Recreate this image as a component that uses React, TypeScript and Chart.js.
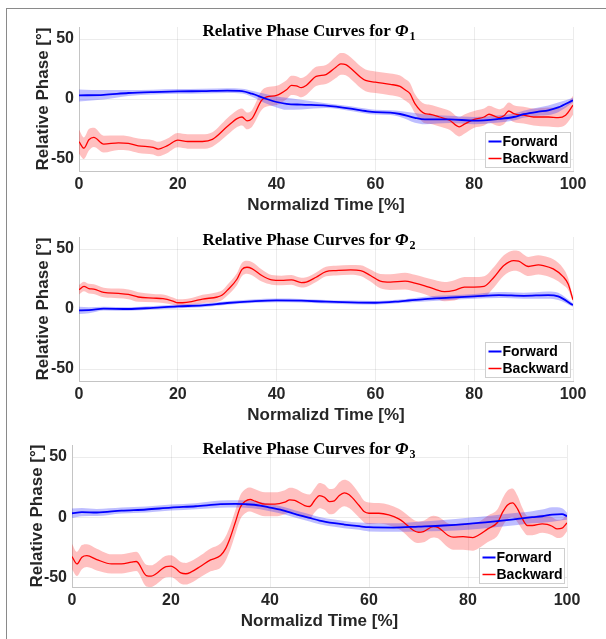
import React, { useEffect, useRef } from 'react';
import { Chart, registerables } from 'chart.js';

Chart.register(...registerables);

// ---------- labels & ticks ----------
const xTicks = [0, 20, 40, 60, 80, 100];
const yTicks = [-50, 0, 50];
const seriesLabels = ['Forward', 'Backward'];
const titleText = 'Relative Phase Curves for ';
const titleSymbol = 'Φ';
const titleSubscripts = ['1', '2', '3'];
const xAxisTitle = 'Normalizd Time [%]';
const yAxisTitle = 'Relative Phase [°]';
const yMins = [-60, -60, -58];
const yMaxs = [60, 60, 60];

// ---------- Phi 1 ----------
const phi1ForwardT = [0, 5, 10, 15, 20, 25, 30, 33, 35, 38, 40, 42, 45, 50, 55, 58, 60, 63, 65, 68, 70, 75, 80, 85, 88, 90, 93, 95, 97, 100];
const phi1ForwardMean = [3, 3.5, 5, 5.8, 6.3, 6.6, 7, 6.6, 4.4, 0, -2.5, -4, -4.7, -5.5, -8, -10, -11, -11.3, -12.5, -15.7, -17, -17, -18, -16.6, -15, -12.7, -10.5, -9.4, -7, -1];
const phi1ForwardSd = [5, 4, 2.5, 2, 2, 2, 2, 2, 2.5, 4, 4.5, 5, 4, 2, 2, 2, 2, 2, 2.5, 4, 4, 3, 3, 3, 3, 3, 3.5, 4, 4, 2];

const phi1BackwardT = [0, 1, 2, 3, 5, 8, 10, 12, 15, 16, 18, 20, 22, 25, 27, 30, 32, 33, 34, 35, 37, 38, 40, 42, 43, 44, 45, 46, 48, 50, 52, 53, 54, 55, 57, 58, 60, 63, 65, 66, 67, 68, 70, 71, 73, 75, 77, 78, 80, 82, 83, 85, 86, 87, 88, 90, 92, 95, 97, 98.5, 100];
const phi1BackwardMean = [-35.6, -41, -34, -32, -37.6, -36.5, -37, -39, -40.3, -41.7, -38.7, -34.3, -35.4, -35.4, -33.7, -23, -16.3, -15, -18.2, -16.3, -1, 1.7, 3, 7.7, 11.3, 11, 9.4, 11.3, 18.8, 20.4, 26.5, 29.3, 28.7, 25.7, 18.2, 15.5, 14, 12.2, 10.5, 7.7, 4.4, -3.9, -12.2, -12.7, -15, -17.7, -23.2, -21, -17, -15, -12.7, -15.5, -14, -10, -12.2, -13.5, -15, -15, -15.5, -13.5, -5.2];
const phi1BackwardSd = [10, 9, 9, 8, 7, 6, 6, 6, 6, 6, 6, 6, 6, 6, 6, 7, 7, 7, 7, 7, 8, 8, 8, 8, 8, 8, 8, 8, 8, 8, 9, 9, 9, 9, 9, 9, 9, 9, 9, 9, 9, 8, 8, 8, 8, 8, 8, 8, 7, 7, 7, 7, 7, 7, 7, 7, 7, 8, 8, 8, 8];

// ---------- Phi 2 ----------
const phi2ForwardT = [0, 2, 5, 10, 15, 20, 25, 30, 35, 40, 45, 50, 55, 60, 65, 70, 75, 80, 85, 90, 95, 97, 100];
const phi2ForwardMean = [-1.1, -1, 0.3, 0, 1, 2.2, 3, 5, 6.4, 7.2, 6.9, 6.1, 5.5, 5.2, 6.4, 8.3, 9.4, 10.5, 11.6, 11, 11.6, 10.5, 3.3];
const phi2ForwardSd = [3, 2.5, 1.5, 1.5, 1.5, 1.5, 1.5, 1.5, 1.5, 1.5, 1.5, 1.5, 1.5, 1.5, 1.5, 2, 2, 2, 2.5, 2.5, 3, 3, 1.5];

const phi2BackwardT = [0, 1, 2, 3, 5, 8, 10, 12, 15, 17, 19, 20, 21, 23, 25, 28, 29, 30, 32, 33, 34, 35, 37, 39, 41, 43, 45, 46, 48, 50, 52, 55, 57, 59, 61, 63, 66, 68, 70, 72, 74, 76, 78, 80, 82, 84, 86, 88, 89, 91, 93, 94, 96, 98, 99, 100];
const phi2BackwardMean = [16, 18.8, 17, 16.6, 13.8, 13, 12.2, 10, 9.1, 8.6, 6.6, 5.2, 5.2, 6.3, 8.3, 10, 11.6, 15.5, 25, 33, 34.8, 33.7, 27.9, 24.3, 23.8, 24.3, 22, 22.4, 26.5, 31.2, 32, 32.6, 32, 27.9, 23.2, 22.4, 23.2, 21.5, 19.3, 16.6, 14.4, 15.5, 18.2, 18.2, 18.8, 26.5, 36.2, 40.3, 39.8, 35.4, 36.7, 36.2, 33.4, 27, 21, 7.7];
const phi2BackwardSd = [4, 4, 4, 4, 4, 4, 4, 4, 3.5, 3.5, 3, 3, 3, 3, 3.5, 4, 4, 4.5, 5, 5.5, 5.5, 5.5, 5, 4, 4, 4, 4, 4, 4, 4, 4, 4, 4.5, 5, 6, 6.5, 7, 7, 7, 7.5, 8, 8.5, 8.5, 8.5, 8.5, 8.5, 8.5, 8.5, 8.5, 8, 8, 8, 8, 7, 5, 2];

// ---------- Phi 3 ----------
const phi3ForwardT = [0, 2, 5, 10, 15, 20, 25, 30, 33, 35, 38, 40, 43, 45, 48, 50, 53, 55, 58, 60, 65, 70, 75, 80, 85, 90, 93, 95, 97, 99, 100];
const phi3ForwardMean = [3.3, 4.2, 3.9, 5.5, 6.4, 8, 9.1, 10.8, 11.1, 10.8, 9.7, 8, 5.3, 2.8, -0.6, -2.8, -5, -6.1, -7.5, -8.3, -8.6, -7.8, -6.9, -5.5, -3.6, -1.4, 0, 0.8, 2.2, 2.5, 0.8];
const phi3ForwardSd = [4, 3.5, 3, 2.5, 2.5, 2.5, 2.5, 3, 3, 3, 3, 3, 3, 3, 3, 3, 3, 3, 3, 3.5, 3.5, 4, 4.5, 5, 5, 5, 5, 5.5, 6, 5, 3];

const phi3BackwardT = [0, 1, 2, 3, 5, 8, 10, 12, 13, 15, 16, 17, 19, 20, 21, 22, 23, 24, 26, 28, 30, 31, 32, 33, 34, 35, 36, 37, 39, 41, 43, 44, 45, 47, 48, 49, 50, 51, 52, 53, 54, 55, 56, 58, 59, 60, 62, 64, 66, 67, 69, 70, 71, 73, 74, 76, 77, 79, 81, 82, 84, 86, 87, 88, 89, 90, 91, 92, 93, 95, 96, 97, 98, 99, 100];
const phi3BackwardMean = [-32.7, -38.8, -33.2, -31.9, -35.2, -38.8, -38.8, -37.4, -36.8, -48.5, -49, -47, -41, -40.7, -42.9, -46.3, -47, -45.7, -40.7, -35.5, -31.9, -26.3, -16.6, -4.2, 8.3, 13.3, 14.7, 13.3, 10.8, 10.8, 12.5, 14.4, 13.9, 9.7, 8.9, 13.9, 18, 16.6, 13, 13.6, 18, 20.2, 18.6, 9.7, 4.7, 3.3, 3.3, 1.9, -1.4, -4.2, -11.1, -12.5, -11.9, -7.8, -8.6, -15.2, -16.6, -16.1, -16.9, -15.2, -9.7, -4.2, 4.2, 10.2, 11.9, 6.9, -1.4, -6.9, -6.9, -5.5, -6, -7.5, -9.7, -9.1, -4.7];
const phi3BackwardSd = [10.5, 10, 10, 9.5, 9, 8, 8, 8, 8, 9, 9, 9, 9, 9, 9, 9, 9, 9, 9, 9.5, 10, 10, 10, 10, 10, 10, 10, 10, 10, 10, 10, 10, 10, 10, 10, 10, 10.5, 10.5, 10.5, 10.5, 11, 11, 11, 10, 9, 9, 8.5, 8.5, 8.5, 8.5, 9, 9, 9, 9, 9, 10, 10.5, 11, 11, 11, 11, 11, 11.5, 12, 12, 11, 9, 8, 8, 7.5, 7.5, 7.5, 7.5, 7.5, 7];

// ---------- styling / layout (not data) ----------
const FORWARD_LINE = '#0000ff';
const FORWARD_BAND = 'rgba(40,40,255,0.30)';
const BACKWARD_LINE = '#ff0000';
const BACKWARD_BAND = 'rgba(255,30,30,0.28)';
const TEXT = '#262626';
const SANS = '"Liberation Sans", Arial, sans-serif';
const SERIF = '"Liberation Serif", "Times New Roman", serif';

type Series = { t: number[]; mean: number[]; sd: number[] };
type PanelCfg = {
  top: number; height: number; left: number; right: number; padTop: number;
  yTitlePad: number; titleDy: number; forward: Series; backward: Series; idx: number;
};

const panels: PanelCfg[] = [
  { idx: 0, top: 0, height: 216, left: 79, right: 573, padTop: 27, yTitlePad: 33.5, titleDy: 9,
    forward: { t: phi1ForwardT, mean: phi1ForwardMean, sd: phi1ForwardSd },
    backward: { t: phi1BackwardT, mean: phi1BackwardMean, sd: phi1BackwardSd } },
  { idx: 1, top: 210, height: 216, left: 79, right: 573, padTop: 27, yTitlePad: 33.5, titleDy: 7.5,
    forward: { t: phi2ForwardT, mean: phi2ForwardMean, sd: phi2ForwardSd },
    backward: { t: phi2BackwardT, mean: phi2BackwardMean, sd: phi2BackwardSd } },
  { idx: 2, top: 418, height: 214, left: 72, right: 567, padTop: 27, yTitlePad: 27.5, titleDy: 9,
    forward: { t: phi3ForwardT, mean: phi3ForwardMean, sd: phi3ForwardSd },
    backward: { t: phi3BackwardT, mean: phi3BackwardMean, sd: phi3BackwardSd } },
];

const pts = (t: number[], v: number[]) => t.map((x, i) => ({ x, y: v[i] }));
const hi = (s: Series) => s.t.map((x, i) => ({ x, y: s.mean[i] + s.sd[i] }));
const lo = (s: Series) => s.t.map((x, i) => ({ x, y: s.mean[i] - s.sd[i] }));

function overlayPlugin(p: PanelCfg) {
  return {
    id: 'overlay' + p.idx,
    afterDraw(chart: any) {
      const { ctx, chartArea } = chart;
      ctx.save();
      // title
      const fMain = `bold 17px ${SERIF}`;
      const fSym = `italic bold 17px ${SERIF}`;
      const fSub = `bold 12px ${SERIF}`;
      ctx.font = fMain;
      const w1 = ctx.measureText(titleText).width;
      ctx.font = fSym;
      const w2 = ctx.measureText(titleSymbol).width;
      ctx.font = fSub;
      const w3 = ctx.measureText(titleSubscripts[p.idx]).width;
      const total = w1 + w2 + 1 + w3;
      let x = 309 - total / 2;
      const yb = chartArea.top + p.titleDy;
      ctx.fillStyle = '#000';
      ctx.textBaseline = 'alphabetic';
      ctx.textAlign = 'left';
      ctx.font = fMain;
      ctx.fillText(titleText, x, yb);
      x += w1;
      ctx.font = fSym;
      ctx.fillText(titleSymbol, x, yb);
      x += w2 + 1;
      ctx.font = fSub;
      ctx.fillText(titleSubscripts[p.idx], x, yb + 4);

      // legend
      const bw = 85, bh = 35;
      const bx = Math.round(chartArea.right - 3 - bw) + 0.5;
      const by = Math.round(chartArea.bottom - 4 - bh) + 0.5;
      ctx.fillStyle = '#ffffff';
      ctx.fillRect(bx, by, bw, bh);
      ctx.strokeStyle = '#cfcfcf';
      ctx.lineWidth = 1;
      ctx.strokeRect(bx, by, bw, bh);
      const colors = [FORWARD_LINE, BACKWARD_LINE];
      const rows = [by + 9, by + 26];
      ctx.font = `bold 14px ${SANS}`;
      ctx.textBaseline = 'middle';
      for (let i = 0; i < 2; i++) {
        ctx.strokeStyle = colors[i];
        ctx.lineWidth = i === 0 ? 2 : 1.5;
        ctx.beginPath();
        ctx.moveTo(bx + 3, rows[i]);
        ctx.lineTo(bx + 16, rows[i]);
        ctx.stroke();
        ctx.fillStyle = '#000';
        ctx.fillText(seriesLabels[i], bx + 17, rows[i] + 1);
      }
      ctx.restore();
    },
  };
}

function Panel({ p }: { p: PanelCfg }) {
  const ref = useRef<HTMLCanvasElement | null>(null);
  useEffect(() => {
    if (!ref.current) return;
    const common = { pointRadius: 0, cubicInterpolationMode: 'monotone' as const };
    const chart = new Chart(ref.current, {
      type: 'line',
      data: {
        datasets: [
          { label: seriesLabels[0], data: pts(p.forward.t, p.forward.mean), borderColor: FORWARD_LINE, borderWidth: 1.8, fill: false, ...common },
          { label: seriesLabels[1], data: pts(p.backward.t, p.backward.mean), borderColor: BACKWARD_LINE, borderWidth: 1.3, fill: false, ...common },
          { label: 'f-lo', data: lo(p.forward), borderWidth: 0, borderColor: 'transparent', fill: false, ...common },
          { label: 'f-hi', data: hi(p.forward), borderWidth: 0, borderColor: 'transparent', backgroundColor: FORWARD_BAND, fill: 2, ...common },
          { label: 'b-lo', data: lo(p.backward), borderWidth: 0, borderColor: 'transparent', fill: false, ...common },
          { label: 'b-hi', data: hi(p.backward), borderWidth: 0, borderColor: 'transparent', backgroundColor: BACKWARD_BAND, fill: 4, ...common },
        ],
      },
      options: {
        animation: false,
        responsive: false,
        events: [],
        layout: { padding: { top: p.padTop, left: 0, right: 606 - p.right, bottom: 0 } },
        plugins: { legend: { display: false }, tooltip: { enabled: false }, title: { display: false } },
        scales: {
          x: {
            type: 'linear',
            min: 0,
            max: 100,
            afterBuildTicks: (s: any) => { s.ticks = xTicks.map((value) => ({ value })); },
            afterFit: (s: any) => { s.height = 45; },
            grid: { color: 'rgba(0,0,0,0.075)', drawTicks: false },
            border: { color: '#c4c4c4' },
            ticks: { color: TEXT, font: { family: SANS, size: 16, weight: 'bold' }, padding: 4, maxRotation: 0, autoSkip: false },
            title: { display: true, text: xAxisTitle, color: TEXT, font: { family: SANS, size: 17, weight: 'bold' }, padding: { top: 0, bottom: 0 } },
          },
          y: {
            type: 'linear',
            min: yMins[p.idx],
            max: yMaxs[p.idx],
            afterBuildTicks: (s: any) => { s.ticks = yTicks.map((value) => ({ value })); },
            afterFit: (s: any) => { s.width = p.left; },
            grid: { color: 'rgba(0,0,0,0.075)', drawTicks: false },
            border: { color: '#c4c4c4' },
            ticks: { color: TEXT, font: { family: SANS, size: 16, weight: 'bold' }, padding: 5, callback: (v: any) => String(v) },
            title: { display: true, text: yAxisTitle, color: TEXT, font: { family: SANS, size: 17, weight: 'bold' }, padding: { top: p.yTitlePad, bottom: 0 } },
          },
        },
      },
      plugins: [overlayPlugin(p)],
    } as any);
    return () => chart.destroy();
  }, []);
  return (
    <canvas
      ref={ref}
      width={606}
      height={p.height}
      style={{ position: 'absolute', left: 0, top: p.top, width: 606, height: p.height, display: 'block' }}
    />
  );
}

export default function App() {
  return (
    <div style={{ position: 'absolute', left: 0, top: 0, width: 606, height: 639, background: '#fff', overflow: 'hidden' }}>
      <div style={{ position: 'absolute', left: 6, top: 8, width: 620, height: 650, borderTop: '1px solid #8a8a8a', borderLeft: '1px solid #8a8a8a' }} />
      {panels.map((p) => (
        <Panel key={p.idx} p={p} />
      ))}
    </div>
  );
}
